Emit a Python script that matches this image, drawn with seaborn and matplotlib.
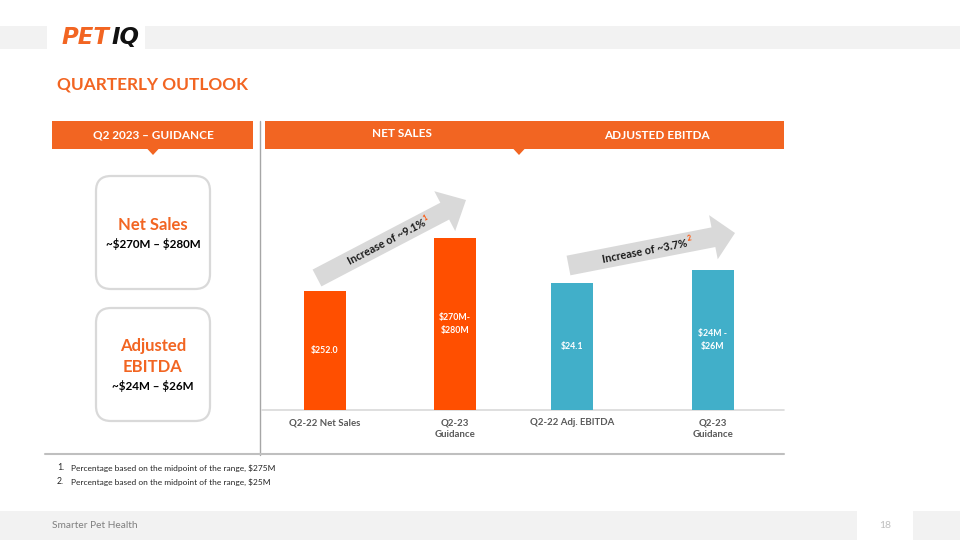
import numpy as np
import matplotlib
matplotlib.use("Agg")
import matplotlib.pyplot as plt
import seaborn as sns
from matplotlib.patches import Rectangle, Polygon, FancyBboxPatch

# ---------------- data ----------------
ns_categories = ["Q2-22 Net Sales", "Q2-23\nGuidance"]
ns_values = [252.0, 275.0]          # Q2-23 = midpoint of $270M-$280M
ns_bar_labels = ["$252.0", "$270M-\n$280M"]

eb_categories = ["Q2-22 Adj. EBITDA", "Q2-23\nGuidance"]
eb_values = [24.1, 25.0]            # Q2-23 = midpoint of $24M-$26M
eb_bar_labels = ["$24.1", "$24M -\n$26M"]

growth_labels = ["Increase of ~9.1%", "Increase of ~3.7%"]
growth_notes = ["1", "2"]
footnotes = ["Percentage based on the midpoint of the range, $275M",
             "Percentage based on the midpoint of the range, $25M"]

# ---------------- style ----------------
sns.set_theme(style="white")
plt.rcParams["font.family"] = ["Lato", "DejaVu Sans"]
plt.rcParams["text.parse_math"] = False

ORANGE = "#F26522"
BAR_OR = "#FF4F00"
TEAL = "#41AFC9"
GREY_BAND = "#F2F2F2"
ARROW_GREY = "#D9D9D9"

W, H = 960, 540
fig = plt.figure(figsize=(9.6, 5.4), dpi=100)
fig.patch.set_facecolor("white")

bg = fig.add_axes([0, 0, 1, 1])
bg.set_xlim(0, W)
bg.set_ylim(H, 0)
bg.axis("off")
renderer = fig.canvas.get_renderer()


def frac(x0, y0, x1, y1):
    return [x0 / W, 1 - y1 / H, (x1 - x0) / W, (y1 - y0) / H]


# top band + logo
bg.add_patch(Rectangle((0, 26), 47, 23, color=GREY_BAND, lw=0))
bg.add_patch(Rectangle((145, 26), W - 145, 23, color=GREY_BAND, lw=0))
logo_kw = dict(fontsize=16.5, fontweight="bold", style="italic",
               family=["DejaVu Sans"], va="center", ha="left")
pet = bg.text(62, 37.5, "PET", color=ORANGE, **logo_kw)
pet_w = pet.get_window_extent(renderer).width
bg.text(62 + pet_w + 1.5, 37.5, "IQ", color="#111111", **logo_kw)

# title
bg.text(57, 85, "QUARTERLY OUTLOOK", color=ORANGE, fontsize=12.4,
        fontweight="bold", va="center", ha="left")

# headers
bg.add_patch(Rectangle((52, 121), 201, 28, color=ORANGE, lw=0))
bg.add_patch(Polygon([(147, 148.5), (159, 148.5), (153, 155)], closed=True,
                     color=ORANGE, lw=0))
bg.text(153, 135.5, "Q2 2023 \u2013 GUIDANCE", color="white", fontsize=8.5,
        fontweight="bold", ha="center", va="center")

bg.add_patch(Rectangle((265, 121), 519, 28, color=ORANGE, lw=0))
bg.add_patch(Polygon([(513, 148.5), (525, 148.5), (519, 155)], closed=True,
                     color=ORANGE, lw=0))
bg.text(402, 133.5, "NET SALES", color="white", fontsize=8.5,
        fontweight="bold", ha="center", va="center")
bg.text(657, 135.5, "ADJUSTED EBITDA", color="white", fontsize=8.5,
        fontweight="bold", ha="center", va="center")

# separators
bg.plot([259.5, 259.5], [121, 455], color="#A6A6A6", lw=1)
bg.plot([45, 784], [454, 454], color="#BFBFBF", lw=1.5)
bg.plot([262, 784], [410, 410], color="#D9D9D9", lw=1.2)

# left boxes
for y0 in (176, 308):
    bg.add_patch(FancyBboxPatch((96, y0), 114, 113,
                                boxstyle="round,pad=0,rounding_size=15",
                                fc="white", ec="#D9D9D9", lw=1.6))
bg.text(153, 224.5, "Net Sales", color=ORANGE, fontsize=12,
        fontweight="bold", ha="center", va="center")
bg.text(153, 244, "~$270M \u2013 $280M", color="black", fontsize=8.4,
        fontweight="bold", ha="center", va="center")
bg.text(153, 346, "Adjusted", color=ORANGE, fontsize=12,
        fontweight="bold", ha="center", va="center")
bg.text(153, 367.5, "EBITDA", color=ORANGE, fontsize=12,
        fontweight="bold", ha="center", va="center")
bg.text(153, 385.5, "~$24M \u2013 $26M", color="black", fontsize=8.4,
        fontweight="bold", ha="center", va="center")


# growth arrows
def arrow_poly(tail, tip, shaft_w, head_w, head_len):
    t = np.array(tail, float)
    p = np.array(tip, float)
    d = p - t
    u = d / np.hypot(*d)
    n = np.array([-u[1], u[0]])
    base = p - u * head_len
    return [t + n * shaft_w / 2, base + n * shaft_w / 2, base + n * head_w / 2,
            p, base - n * head_w / 2, base - n * shaft_w / 2, t - n * shaft_w / 2]


bg.add_patch(Polygon(arrow_poly((317, 278), (466, 200), 19, 45, 24),
                     closed=True, color=ARROW_GREY, lw=0))
bg.add_patch(Polygon(arrow_poly((568.5, 265.5), (735, 233), 20, 45, 22),
                     closed=True, color=ARROW_GREY, lw=0))


def growth_text(cx, cy, angle, label, note):
    kw = dict(color="#1A1A1A", fontsize=7.8, fontweight="bold")
    probe = bg.text(0, 0, label, **kw)
    w_px = probe.get_window_extent(renderer).width
    probe.remove()
    bg.text(cx, cy, label, rotation=angle, rotation_mode="anchor",
            ha="center", va="center", **kw)
    a = np.deg2rad(angle)
    u = np.array([np.cos(a), -np.sin(a)])   # along text (y axis inverted)
    n = np.array([-np.sin(a), -np.cos(a)])  # "up" relative to text
    pos = np.array([cx, cy]) + u * (w_px / 2 + 2.5) + n * 4
    bg.text(pos[0], pos[1], note, rotation=angle, rotation_mode="anchor",
            color="#FF4F00", fontsize=5, fontweight="bold",
            ha="center", va="center")


growth_text(387, 242, 27.5, growth_labels[0], growth_notes[0])
growth_text(645, 251, 11, growth_labels[1], growth_notes[1])

# footnotes
for i, note in enumerate(footnotes):
    y = 468 + 14 * i
    bg.text(57, y, f"{i + 1}.", fontsize=6.3, color="#262626", va="center")
    bg.text(71, y, note, fontsize=6.0, color="#262626", va="center")

# bottom band
bg.add_patch(Rectangle((0, 511), 857, 29, color=GREY_BAND, lw=0))
bg.add_patch(Rectangle((913, 511), 47, 29, color=GREY_BAND, lw=0))
bg.text(52, 525.5, "Smarter Pet Health", color="#7F7F7F", fontsize=7.3,
        va="center", ha="left")
bg.text(885, 525, "18", color="#BFBFBF", fontsize=7.5, va="center", ha="center")

# ---------------- bars ----------------
TOP_PX, BASE_PX = 160, 410


def bar_panel(x0, x1, centers_px, cats, vals, labels, color, ybase, px_per_unit):
    ax = fig.add_axes(frac(x0, TOP_PX, x1, BASE_PX))
    ax.patch.set_alpha(0)
    spacing = centers_px[1] - centers_px[0]
    sns.barplot(x=cats, y=vals, ax=ax, color=color, saturation=1,
                width=42 / spacing, linewidth=0)
    ax.set_xlim(-(centers_px[0] - x0) / spacing, 1 + (x1 - centers_px[1]) / spacing)
    ax.set_ylim(ybase, ybase + (BASE_PX - TOP_PX) / px_per_unit)
    for s in ax.spines.values():
        s.set_visible(False)
    ax.set_yticks([])
    ax.set_xlabel("")
    ax.set_ylabel("")
    ax.tick_params(axis="x", length=0, pad=6)
    for lab in ax.get_xticklabels():
        lab.set_fontsize(6.9)
        lab.set_fontweight("bold")
        lab.set_color("#595959")
        lab.set_linespacing(1.35)
    for i, (v, t) in enumerate(zip(vals, labels)):
        ax.text(i, (ybase + v) / 2, t, color="white", fontsize=6.3,
                fontweight="bold", ha="center", va="center", linespacing=1.5)
    return ax


bar_panel(262, 520, (324.5, 455), ns_categories, ns_values, ns_bar_labels,
          BAR_OR, 200.0, 2.29)
bar_panel(520, 784, (572, 713), eb_categories, eb_values, eb_bar_labels,
          TEAL, 15.3, 14.43)

fig.savefig("out.png", dpi=100)
